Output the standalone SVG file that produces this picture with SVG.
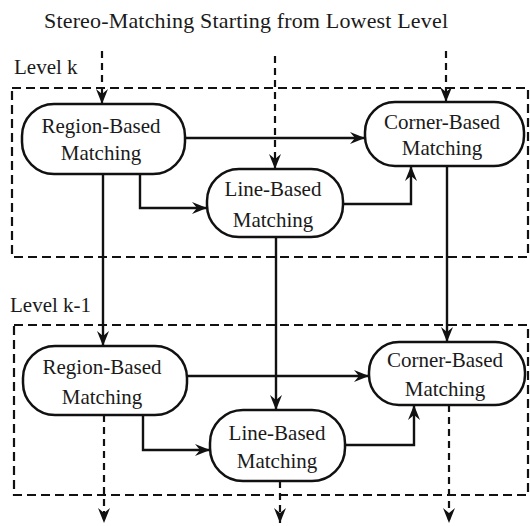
<svg xmlns="http://www.w3.org/2000/svg" width="530" height="526" viewBox="0 0 530 526" font-family="'Liberation Serif', 'DejaVu Serif', serif">
<style>
text{font-family:"Liberation Serif","DejaVu Serif",serif;font-size:21px;fill:#1a1a1a}
.node rect{fill:#fff;stroke:#111;stroke-width:2.5}
.c{fill:none;stroke:#111;stroke-width:2.4;marker-end:url(#ah)}
.d{fill:none;stroke:#111;stroke-width:2.2;stroke-dasharray:7 5;marker-end:url(#ah)}
.box{fill:none;stroke:#111;stroke-width:2.2;stroke-dasharray:9 5}
</style>
<defs>
<marker id="ah" markerUnits="userSpaceOnUse" markerWidth="16" markerHeight="14" refX="15" refY="7" orient="auto">
<path d="M0,1 L15,7 L0,13 L5,7 Z" fill="#111"/>
</marker>
</defs>
<rect width="530" height="526" fill="#fff"/>
<text x="246" y="28" text-anchor="middle" font-size="22" style="font-size:22px" textLength="404" lengthAdjust="spacing">Stereo-Matching Starting from Lowest Level</text>
<g id="levelk">
<rect class="box" x="12" y="88" width="516" height="169"/>
<text x="14" y="74">Level k</text>
</g>
<g id="levelk1">
<rect class="box" x="14" y="325" width="514" height="170"/>
<text x="10" y="312">Level k-1</text>
</g>
<g id="connectors">
<path class="d" d="M102,51 V104"/>
<path class="d" d="M275,56 V169"/>
<path class="d" d="M446,51 V102"/>
<path class="c" d="M185,138 H365"/>
<path class="c" d="M140,174 V208 H207"/>
<path class="c" d="M343,204 H411 V166"/>
<path class="c" d="M103,174 V346"/>
<path class="c" d="M276,237 V410"/>
<path class="c" d="M447,166 V342"/>
<path class="c" d="M187,376 H369"/>
<path class="c" d="M143,415 V450 H210"/>
<path class="c" d="M345,445 H414 V405"/>
<path class="d" d="M104,415 V523"/>
<path class="d" d="M280,481 V523"/>
<path class="d" d="M449,405 V523"/>
</g>
<g id="region_k" class="node">
<rect x="22" y="104" width="163" height="70" rx="32"/>
<text x="101" y="133" text-anchor="middle">Region-Based</text>
<text x="101" y="160" text-anchor="middle">Matching</text>
</g>
<g id="corner_k" class="node">
<rect x="365" y="102" width="159" height="64" rx="30"/>
<text x="442" y="129" text-anchor="middle">Corner-Based</text>
<text x="442" y="155" text-anchor="middle">Matching</text>
</g>
<g id="line_k" class="node">
<rect x="207" y="169" width="136" height="68" rx="32"/>
<text x="273" y="196" text-anchor="middle">Line-Based</text>
<text x="273" y="227" text-anchor="middle">Matching</text>
</g>
<g id="region_k1" class="node">
<rect x="23" y="346" width="164" height="69" rx="32"/>
<text x="102" y="374" text-anchor="middle">Region-Based</text>
<text x="102" y="404" text-anchor="middle">Matching</text>
</g>
<g id="corner_k1" class="node">
<rect x="369" y="342" width="156" height="63" rx="30"/>
<text x="445" y="367" text-anchor="middle">Corner-Based</text>
<text x="445" y="396" text-anchor="middle">Matching</text>
</g>
<g id="line_k1" class="node">
<rect x="210" y="410" width="135" height="71" rx="33"/>
<text x="277" y="440" text-anchor="middle">Line-Based</text>
<text x="277" y="468" text-anchor="middle">Matching</text>
</g>
</svg>
